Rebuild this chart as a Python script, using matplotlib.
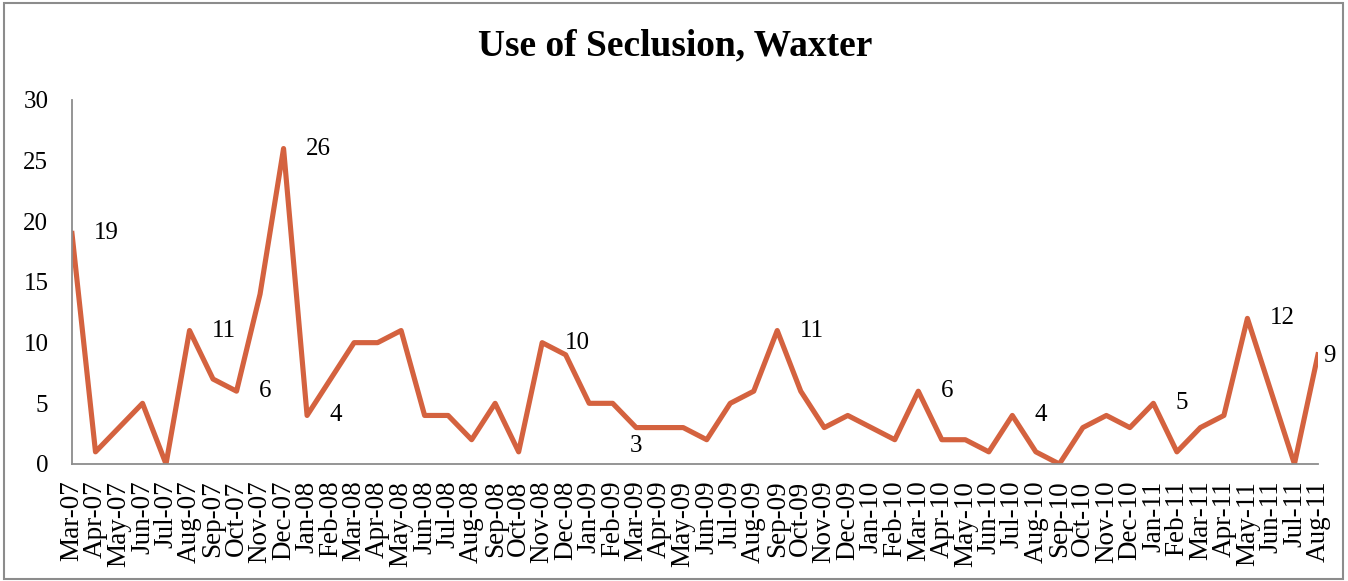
import matplotlib.pyplot as plt
from matplotlib.patches import Rectangle

plt.rcParams['font.family'] = ['Liberation Serif', 'DejaVu Serif']

# Monthly counts, Mar-07 .. Aug-11
months = ['Mar-07', 'Apr-07', 'May-07', 'Jun-07', 'Jul-07', 'Aug-07', 'Sep-07', 'Oct-07', 'Nov-07', 'Dec-07',
          'Jan-08', 'Feb-08', 'Mar-08', 'Apr-08', 'May-08', 'Jun-08', 'Jul-08', 'Aug-08', 'Sep-08', 'Oct-08', 'Nov-08', 'Dec-08',
          'Jan-09', 'Feb-09', 'Mar-09', 'Apr-09', 'May-09', 'Jun-09', 'Jul-09', 'Aug-09', 'Sep-09', 'Oct-09', 'Nov-09', 'Dec-09',
          'Jan-10', 'Feb-10', 'Mar-10', 'Apr-10', 'May-10', 'Jun-10', 'Jul-10', 'Aug-10', 'Sep-10', 'Oct-10', 'Nov-10', 'Dec-10',
          'Jan-11', 'Feb-11', 'Mar-11', 'Apr-11', 'May-11', 'Jun-11', 'Jul-11', 'Aug-11']
counts = [19, 1, 3, 5, 0, 11, 7, 6, 14, 26,
          4, 7, 10, 10, 11, 4, 4, 2, 5, 1, 10, 9,
          5, 5, 3, 3, 3, 2, 5, 6, 11, 6, 3, 4,
          3, 2, 6, 2, 2, 1, 4, 1, 0, 3, 4, 3,
          5, 1, 3, 4, 12, 6, 0, 9]

# which points carry a data label
labeled = ['Mar-07', 'Aug-07', 'Oct-07', 'Dec-07', 'Jan-08', 'Nov-08', 'Mar-09',
           'Sep-09', 'Mar-10', 'Jul-10', 'Jan-11', 'May-11', 'Aug-11']

line_col = '#D4623F'
grey = '#8C8C8C'

fig = plt.figure(figsize=(13.48, 5.81), dpi=100)
ax = fig.add_axes([0.0534, 0.2014, 0.9243, 0.6265])

x = list(range(len(months)))
ax.plot(x, counts, color=line_col, lw=3.7, solid_joinstyle='round')

for m in labeled:
    i = months.index(m)
    v = counts[i]
    if m == 'Mar-09':
        ax.annotate(str(v), (i, v), xytext=(0, -5), textcoords='offset points',
                    ha='center', va='top', fontsize=18)
    elif m == 'Aug-11':
        ax.annotate(str(v), (i, v), xytext=(4, -1), textcoords='offset points',
                    ha='left', va='center', fontsize=18, annotation_clip=False)
    else:
        ax.annotate(str(v), (i, v), xytext=(16, 0), textcoords='offset points',
                    ha='left', va='center', fontsize=18)

ax.set_xlim(0, len(months) - 1)
ax.set_ylim(0, 30)
ax.set_yticks(range(0, 31, 5))
ax.set_xticks(x)
ax.set_xticklabels(months, rotation=90, fontsize=19.5)
ax.tick_params(axis='y', length=0, pad=17, labelsize=18)
ax.tick_params(axis='x', length=0, pad=12)

for s in ['top', 'right']:
    ax.spines[s].set_visible(False)
for s in ['left', 'bottom']:
    ax.spines[s].set_color(grey)
    ax.spines[s].set_linewidth(1.3)

fig.text(0.501, 0.92, 'Use of Seclusion, Waxter', ha='center', va='center',
         fontsize=27, fontweight='bold')

# chart border
fig.patches.append(Rectangle((0.003, 0.004), 0.993, 0.99, transform=fig.transFigure,
                             fill=False, edgecolor=grey, lw=1.5))

fig.savefig('out.png', dpi=100)
